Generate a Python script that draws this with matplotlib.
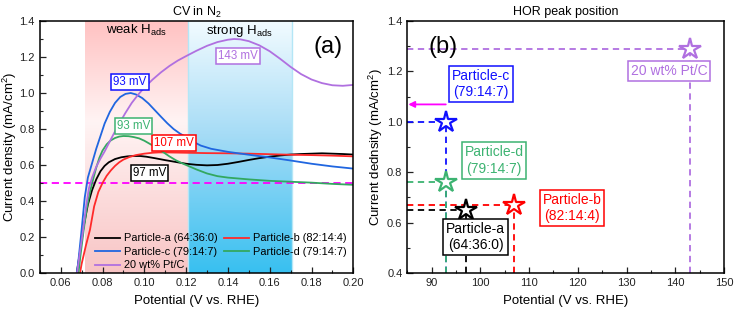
import numpy as np
import matplotlib
matplotlib.use("Agg")
import matplotlib.pyplot as plt
from matplotlib.colors import LinearSegmentedColormap

plt.rcParams['font.family'] = ['Liberation Sans', 'DejaVu Sans']
plt.rcParams['mathtext.fontset'] = 'custom'
plt.rcParams['mathtext.rm'] = 'Liberation Sans'
plt.rcParams['mathtext.it'] = 'Liberation Sans:italic'

# ---------------- data: panel (a) CV curves ----------------
va = [0.0670, 0.0690, 0.0710, 0.0730, 0.0750, 0.0770, 0.0790, 0.0810, 0.0830, 0.0860,
      0.0890, 0.0920, 0.0950, 0.0980, 0.1010, 0.1050, 0.1100, 0.1150, 0.1200, 0.1250,
      0.1300, 0.1350, 0.1400, 0.1450, 0.1500, 0.1550, 0.1600, 0.1650, 0.1700, 0.1750,
      0.1800, 0.1850, 0.1900, 0.1950, 0.2000]
ia = [-0.05, 0.10, 0.26, 0.38, 0.46, 0.52, 0.565, 0.595, 0.615, 0.633,
      0.643, 0.648, 0.650, 0.650, 0.646, 0.638, 0.627, 0.617, 0.607, 0.601,
      0.598, 0.600, 0.607, 0.617, 0.628, 0.638, 0.646, 0.653, 0.658, 0.661,
      0.663, 0.665, 0.663, 0.661, 0.658]

vb = [0.0685, 0.0700, 0.0720, 0.0740, 0.0760, 0.0780, 0.0800, 0.0820, 0.0840, 0.0860,
      0.0880, 0.0900, 0.0930, 0.0960, 0.1000, 0.1040, 0.1070, 0.1100, 0.1200, 0.1300,
      0.1400, 0.1500, 0.1600, 0.1700, 0.1800, 0.1900, 0.2000]
ib = [-0.05, 0.05, 0.15, 0.24, 0.37, 0.45, 0.50, 0.54, 0.57, 0.595,
      0.615, 0.63, 0.645, 0.655, 0.663, 0.668, 0.670, 0.670, 0.668, 0.666,
      0.665, 0.663, 0.660, 0.657, 0.655, 0.652, 0.648]

vc = [0.0672, 0.0685, 0.0700, 0.0715, 0.0730, 0.0750, 0.0770, 0.0790, 0.0810, 0.0835,
      0.0860, 0.0885, 0.0910, 0.0935, 0.0960, 0.0990, 0.1020, 0.1050, 0.1080, 0.1110,
      0.1140, 0.1170, 0.1200, 0.1230, 0.1270, 0.1320, 0.1400, 0.1500, 0.1600, 0.1700,
      0.1800, 0.1900, 0.2000]
ic = [-0.05, 0.07, 0.24, 0.42, 0.53, 0.61, 0.69, 0.76, 0.83, 0.895,
      0.945, 0.978, 0.995, 1.000, 0.992, 0.972, 0.942, 0.905, 0.868, 0.832,
      0.80, 0.775, 0.755, 0.732, 0.708, 0.69, 0.673, 0.657, 0.642, 0.625,
      0.607, 0.592, 0.58]

vd = [0.0680, 0.0695, 0.0710, 0.0725, 0.0740, 0.0755, 0.0770, 0.0785, 0.0800, 0.0820,
      0.0840, 0.0860, 0.0880, 0.0900, 0.0925, 0.0950, 0.0975, 0.1000, 0.1030, 0.1060,
      0.1090, 0.1120, 0.1150, 0.1180, 0.1210, 0.1250, 0.1300, 0.1350, 0.1400, 0.1500,
      0.1600, 0.1700, 0.1800, 0.1900, 0.2000]
idd = [-0.05, 0.10, 0.24, 0.36, 0.45, 0.52, 0.585, 0.64, 0.68, 0.715,
       0.737, 0.75, 0.758, 0.761, 0.760, 0.755, 0.748, 0.735, 0.715, 0.695,
       0.672, 0.648, 0.627, 0.61, 0.595, 0.575, 0.553, 0.538, 0.53, 0.52,
       0.512, 0.507, 0.502, 0.495, 0.49]

vp = [0.0673, 0.0690, 0.0705, 0.0720, 0.0735, 0.0750, 0.0770, 0.0790, 0.0810, 0.0830,
      0.0850, 0.0880, 0.0910, 0.0940, 0.0970, 0.1000, 0.1040, 0.1080, 0.1120, 0.1160,
      0.1200, 0.1250, 0.1300, 0.1350, 0.1400, 0.1430, 0.1460, 0.1500, 0.1550, 0.1600,
      0.1650, 0.1700, 0.1750, 0.1800, 0.1850, 0.1900, 0.1950, 0.2000]
ip = [-0.05, 0.10, 0.22, 0.36, 0.47, 0.53, 0.59, 0.635, 0.675, 0.72,
      0.765, 0.83, 0.89, 0.945, 0.99, 1.03, 1.075, 1.115, 1.15, 1.18,
      1.205, 1.235, 1.262, 1.283, 1.296, 1.300, 1.298, 1.288, 1.265, 1.232,
      1.19, 1.145, 1.105, 1.075, 1.055, 1.043, 1.04, 1.045]

labels = ['Particle-a (64:36:0)', 'Particle-b (82:14:4)', 'Particle-c (79:14:7)',
          'Particle-d (79:14:7)', '20 wt% Pt/C']
line_colors = ['#000000', '#ff2a2a', '#2066e0', '#33a860', '#b070e0']
box_colors = ['#000000', '#ff0000', '#1010ff', '#3cb371', '#b070e0']

# peak annotations panel (a)
peak_text = ['97 mV', '107 mV', '93 mV', '93 mV', '143 mV']
peak_text_pos = [(0.1024, 0.557), (0.1142, 0.72), (0.0932, 1.063), (0.0947, 0.817), (0.1447, 1.207)]

# regions
weak_range = (0.0716, 0.1209)
strong_range = (0.1209, 0.1705)
ref_level = 0.5

# ---------------- data: panel (b) peak positions ----------------
peak_pot = [97, 107, 93, 93, 143]
peak_cur = [0.65, 0.67, 1.00, 0.76, 1.29]
b_labels = ['Particle-a\n(64:36:0)', 'Particle-b\n(82:14:4)', 'Particle-c\n(79:14:7)',
            'Particle-d\n(79:14:7)', '20 wt% Pt/C']
b_label_pos = [(99.0, 0.543), (118.8, 0.658), (100.1, 1.15), (102.8, 0.846), (138.7, 1.202)]

W, H = 734, 312
fig = plt.figure(figsize=(W / 100, H / 100), dpi=100)
ax1 = fig.add_axes([39.8 / W, 1 - 273 / H, (353.3 - 39.8) / W, (273 - 21) / H])
ax2 = fig.add_axes([407.3 / W, 1 - 273 / H, (724 - 407.3) / W, (273 - 21) / H])

# ---- panel (a) ----
ax1.set_xlim(0.05, 0.20)
ax1.set_ylim(0.0, 1.4)

pink = LinearSegmentedColormap.from_list('pk', [(0.0, '#f8c4c4'), (0.6, '#fff4f4'), (1.0, '#ffc2c2')])
blue = LinearSegmentedColormap.from_list('bl', [(0.0, '#38c0f0'), (0.55, '#a6dcf6'), (1.0, '#f2fbff')])
grad = np.linspace(0, 1, 256).reshape(-1, 1)
ax1.imshow(grad, cmap=pink, origin='lower', aspect='auto',
           extent=[weak_range[0], weak_range[1], 0, 1.4], zorder=0)
ax1.imshow(grad, cmap=blue, origin='lower', aspect='auto',
           extent=[strong_range[0], strong_range[1], 0, 1.4], zorder=0)
for xv in strong_range:
    ax1.axvline(xv, color='#b4e6f6', lw=1.0, zorder=0.5)

ax1.axhline(ref_level, color='#ff00ff', lw=1.3, ls=(0, (4, 2.5)), zorder=1)

series = [(va, ia), (vb, ib), (vc, ic), (vd, idd), (vp, ip)]
handles = []
for (x, y), c, lab in zip(series, line_colors, labels):
    h, = ax1.plot(x, y, color=c, lw=1.3, label=lab, zorder=2)
    handles.append(h)

for t, (x, y), c in zip(peak_text, peak_text_pos, box_colors):
    ax1.text(x, y, t, color=c, fontsize=8.3, ha='center', va='center', zorder=5,
             bbox=dict(boxstyle='square,pad=0.18', fc='white', ec=c, lw=1.1))

ax1.text(np.mean(weak_range), 1.345, 'weak H$_{\\mathrm{ads}}$', fontsize=9.5, ha='center', va='center')
ax1.text(np.mean(strong_range), 1.345, 'strong H$_{\\mathrm{ads}}$', fontsize=9.5, ha='center', va='center')
ax1.text(0.188, 1.257, '(a)', fontsize=17, ha='center', va='center')

order = [0, 2, 4, 1, 3]
ax1.legend([handles[i] for i in order], [labels[i] for i in order], ncol=2, loc='lower right',
           bbox_to_anchor=(0.979, 0.01), borderaxespad=0, borderpad=0,
           frameon=False, fontsize=7.9, handlelength=2.3,
           handletextpad=0.35, columnspacing=0.55, labelspacing=0.32)

ax1.set_xticks(np.arange(0.06, 0.201, 0.02))
ax1.set_xticks(np.arange(0.05, 0.201, 0.01), minor=True)
ax1.set_yticks(np.arange(0.0, 1.41, 0.2))
ax1.set_yticks(np.arange(0.0, 1.41, 0.1), minor=True)
ax1.set_xticklabels([f'{v:.2f}' for v in np.arange(0.06, 0.201, 0.02)])
ax1.set_yticklabels([f'{v:.1f}' for v in np.arange(0.0, 1.41, 0.2)])
ax1.set_xlabel('Potential (V vs. RHE)', fontsize=9.5, labelpad=5)
ax1.set_ylabel('Current density (mA/cm$^2$)', fontsize=9.5)
ax1.yaxis.set_label_coords(-21 / 313.5, 0.5)
ax1.set_title('CV in N$_2$', fontsize=9, pad=4)

# ---- panel (b) ----
ax2.set_xlim(85, 150)
ax2.set_ylim(0.4, 1.4)
dash = (0, (3.5, 2.5))
for px, py, c in zip(peak_pot, peak_cur, box_colors):
    ax2.plot([85, px], [py, py], color=c, lw=1.3, ls=dash, zorder=2)
    ax2.plot([px, px], [0.4, py], color=c, lw=1.3, ls=dash, zorder=2)
for px, py, c in zip(peak_pot, peak_cur, box_colors):
    ax2.plot([px], [py], marker='*', ms=16, mfc='white', mec=c, mew=1.6, ls='none', zorder=4)

for t, (x, y), c in zip(b_labels, b_label_pos, box_colors):
    ax2.text(x, y, t, color=c, fontsize=10, ha='center', va='center', zorder=5,
             linespacing=1.25,
             bbox=dict(boxstyle='square,pad=0.2', fc='white', ec=c, lw=1.1))

ax2.annotate('', xy=(85.2, 1.069), xytext=(92.9, 1.069),
             arrowprops=dict(arrowstyle='-|>', color='#ff00ff', lw=1.3,
                             mutation_scale=9, shrinkA=0, shrinkB=0), zorder=5)
ax2.text(92.4, 1.298, '(b)', fontsize=17, ha='center', va='center', zorder=6)

ax2.set_xticks(np.arange(90, 151, 10))
ax2.set_xticks(np.arange(85, 151, 5), minor=True)
ax2.set_yticks(np.arange(0.4, 1.41, 0.2))
ax2.set_yticks(np.arange(0.4, 1.41, 0.1), minor=True)
ax2.set_yticklabels([f'{v:.1f}' for v in np.arange(0.4, 1.41, 0.2)])
ax2.set_xlabel('Potential (V vs. RHE)', fontsize=9.5, labelpad=5)
ax2.set_ylabel('Current dednsity (mA/cm$^2$)', fontsize=9.5)
ax2.yaxis.set_label_coords(-22 / 316.7, 0.5)
ax2.set_title('HOR peak position', fontsize=9, pad=4)

for ax in (ax1, ax2):
    for s in ax.spines.values():
        s.set_linewidth(1.1)
    ax.tick_params(which='both', direction='in', top=False, right=False,
                   labelsize=8, colors='#222222')
    ax.tick_params(which='major', length=4, width=0.9)
    ax.tick_params(which='minor', length=2.5, width=0.8)

fig.savefig('out.png', dpi=100)
